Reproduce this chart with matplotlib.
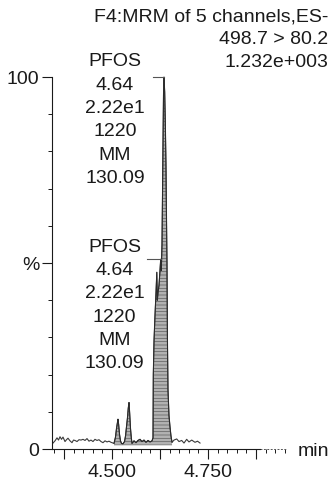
import numpy as np
import matplotlib
matplotlib.use("Agg")
import matplotlib.pyplot as plt
from matplotlib.ticker import MultipleLocator, FixedLocator, FuncFormatter

plt.rcParams['font.family'] = ['Liberation Sans', 'DejaVu Sans']
plt.rcParams['hatch.linewidth'] = 0.5

# retention time (min) and relative intensity (%)
times = [4.3464, 4.3516, 4.3568, 4.3607, 4.3646, 4.3685, 4.3724, 4.3776, 4.3815, 4.3854,
         4.3906, 4.3958, 4.3997, 4.4036, 4.4089, 4.4141, 4.4193, 4.4245, 4.4297, 4.4349,
         4.4401, 4.4453, 4.4505, 4.4557, 4.4609, 4.4661, 4.4714, 4.4766, 4.4818, 4.4870,
         4.4922, 4.4974, 4.5026,
         4.5052, 4.5091, 4.5117, 4.5143, 4.5156, 4.5174, 4.5195, 4.5221, 4.5247, 4.5286,
         4.5326, 4.5352, 4.5378, 4.5404, 4.5424, 4.5443, 4.5461, 4.5482, 4.5503, 4.5521,
         4.5573, 4.5625, 4.5677, 4.5729, 4.5781, 4.5833, 4.5885, 4.5938, 4.5990, 4.6042,
         4.6068, 4.6076, 4.6094, 4.6120, 4.6146, 4.6167, 4.6180, 4.6198, 4.6224, 4.6250,
         4.6268, 4.6284, 4.6302, 4.6315, 4.6328, 4.6341, 4.6354, 4.6372, 4.6388, 4.6406,
         4.6419, 4.6432, 4.6443, 4.6458, 4.6484, 4.6510, 4.6536, 4.6563,
         4.6615, 4.6685, 4.6745, 4.6815, 4.6875, 4.6945, 4.7005, 4.7076, 4.7161, 4.7227,
         4.7292]
intensity = [1.6, 2.2, 3.0, 2.4, 3.3, 2.6, 3.2, 2.0, 2.5, 2.9,
             2.2, 1.7, 2.4, 2.3, 2.0, 2.5, 2.4, 2.6, 2.3, 2.8,
             2.1, 2.4, 2.0, 2.6, 2.3, 2.5, 2.0, 1.7, 2.2, 1.9,
             2.1, 1.8, 1.6,
             1.5, 3.2, 5.5, 7.2, 8.0, 6.5, 4.0, 2.2, 1.5, 1.4,
             2.0, 3.5, 6.0, 8.5, 11.0, 12.5, 9.5, 5.5, 3.0, 1.5,
             2.2, 1.7, 2.3, 2.6, 2.0, 2.4, 1.8, 2.3, 1.9, 2.2,
             3.0, 20, 29, 36, 42, 47.5, 40, 42, 44, 48,
             51, 48, 55, 68, 82, 95, 100, 96, 88, 76,
             62, 50, 30, 16, 9, 6, 3.5, 1.8,
             2.4, 2.7, 2.0, 2.3, 1.6, 2.6, 1.9, 2.4, 1.8, 2.1,
             1.6]

# integrated region
integ_start = 4.5052
integ_end = 4.6563
integ_base = 1.0

# peak labels
peak_rt = [4.6354, 4.6268]
peak_text = ["PFOS", "4.64", "2.22e1", "1220", "MM", "130.09"]

header = ["F4:MRM of 5 channels,ES-", "498.7 > 80.2", "1.232e+003"]
xtick_show = [4.5, 4.75]

t = np.array(times)
y = np.array(intensity)

W, H = 335, 482
fig = plt.figure(figsize=(W / 100, H / 100), dpi=100)
ax = fig.add_axes([52 / W, 33 / H, 235 / W, 372 / H])

fs = 14
ink = '#1a1a1a'

ax.plot(t, y, color='#3a3a3a', linewidth=0.8, clip_on=False)
mask = (t >= integ_start) & (t <= integ_end)
ax.fill_between(t[mask], integ_base, y[mask], facecolor='#b2b2b2',
                edgecolor='#5e5e5e', hatch='-----', linewidth=0.0)
ax.plot(t[mask], y[mask], color='#2a2a2a', linewidth=0.7)

ax.set_xlim(4.34375, 4.95573)
ax.set_ylim(0, 100)

for s in ['top', 'right']:
    ax.spines[s].set_visible(False)
for s in ['left', 'bottom']:
    ax.spines[s].set_linewidth(0.8)
    ax.spines[s].set_color(ink)
ax.spines['bottom'].set_bounds(4.34375, 4.885)
ax.plot([4.885, 4.95573], [0, 0], color='#555555', linewidth=0.7,
        linestyle=(0, (2, 1.5)), clip_on=False)

ax.xaxis.set_major_locator(MultipleLocator(0.125))
ax.xaxis.set_minor_locator(MultipleLocator(0.025))
ax.xaxis.set_major_formatter(FuncFormatter(
    lambda v, p: f"{v:.3f}" if any(abs(v - s) < 1e-6 for s in xtick_show) else ""))
ax.yaxis.set_major_locator(FixedLocator([0, 50, 100]))
ax.yaxis.set_minor_locator(MultipleLocator(10))
ax.yaxis.set_major_formatter(FuncFormatter(
    lambda v, p: {0: "0", 50: "%", 100: "100"}.get(int(round(v)), "")))

ax.tick_params(which='major', length=7.5, width=0.8, color=ink, labelsize=fs,
               labelcolor=ink, pad=1.5)
ax.tick_params(axis='x', which='major', pad=3.5)
ax.tick_params(which='minor', length=3, width=0.7, color=ink)

# peak labels with their brackets
offsets = [(-49, 15, 11), (-46, 12, 13.5)]
for rt, (dx, dy, blen) in zip(peak_rt, offsets):
    i = int(np.argmin(np.abs(t - rt)))
    px, py = t[i], y[i]
    ax.plot([px - blen / 384, px], [py, py], color='#555555', linewidth=0.8,
            clip_on=False)
    for k, line in enumerate(peak_text):
        ax.annotate(line, (px, py), xytext=(dx, dy - 23.3 * k),
                    textcoords='offset pixels', ha='center', va='center',
                    fontsize=fs, color=ink, annotation_clip=False)

for k, line in enumerate(header):
    fig.text(328 / W, 1 - (16.5 + 22.8 * k) / H, line, ha='right', va='center',
             fontsize=fs, color=ink)

fig.text(313 / W, 1 - 451 / H, "min", ha='center', va='center', fontsize=fs,
         color=ink)

fig.savefig("out.png", dpi=100)
